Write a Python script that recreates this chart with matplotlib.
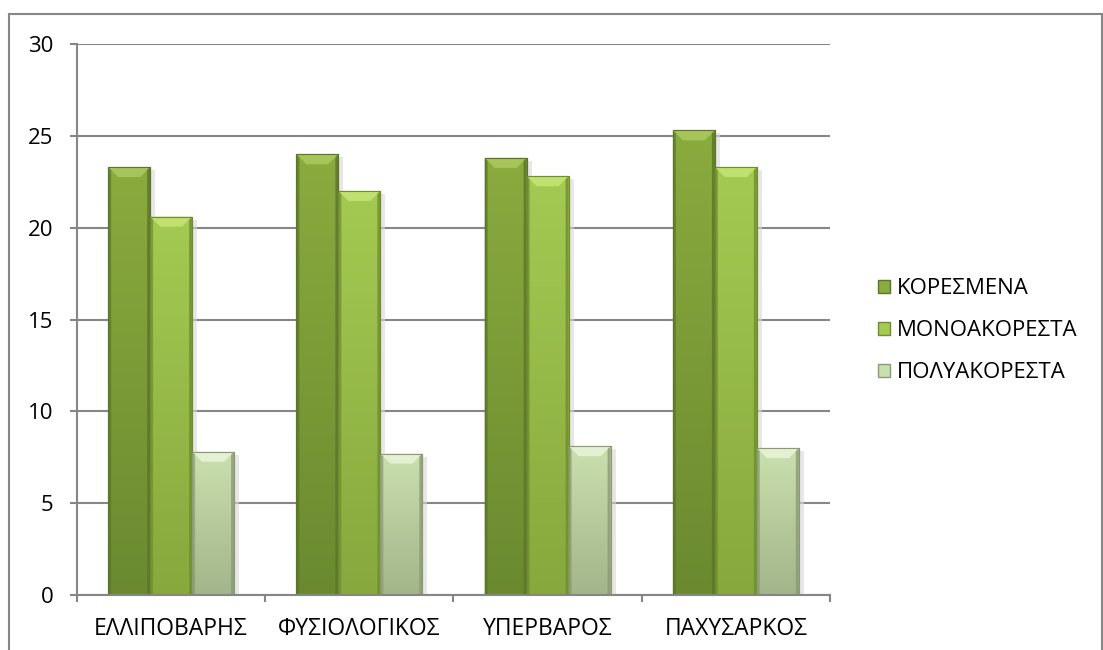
import numpy as np
import matplotlib
matplotlib.use("Agg")
import matplotlib.pyplot as plt
from matplotlib.patches import Polygon, Rectangle
from matplotlib.colors import LinearSegmentedColormap

plt.rcParams['font.family'] = ['Open Sans', 'DejaVu Sans']

# data
categories = ['ΕΛΛΙΠΟΒΑΡΗΣ', 'ΦΥΣΙΟΛΟΓΙΚΟΣ', 'ΥΠΕΡΒΑΡΟΣ', 'ΠΑΧΥΣΑΡΚΟΣ']
series_names = ['ΚΟΡΕΣΜΕΝΑ', 'ΜΟΝΟΑΚΟΡΕΣΤΑ', 'ΠΟΛΥΑΚΟΡΕΣΤΑ']
koresmena = [23.3, 24.0, 23.8, 25.3]
monoakoresta = [20.6, 22.0, 22.8, 23.3]
polyakoresta = [7.8, 7.7, 8.1, 8.0]
yticks = [0, 5, 10, 15, 20, 25, 30]

# top / bottom gradient colour per series
top_cols = ['#8aab3e', '#a4ca52', '#cadfae']
bot_cols = ['#6b8a30', '#87a83d', '#a3b58a']
edge_cols = ['#5a752a', '#6f8c30', '#8a9a74']
bevel_cols = ['#a6c45a', '#c0e070', '#e4f0d2']

fig = plt.figure(figsize=(11.03, 6.5), dpi=100)
ax = fig.add_axes([0.0698, 0.0846, 0.6827, 0.8477])

values = [koresmena, monoakoresta, polyakoresta]
w = 0.223
x = np.arange(len(categories))
ax.set_xlim(-0.5, len(categories) - 0.5)
ax.set_ylim(0, 30)

# size of one pixel in data units (for bevels / shadows)
px_x = 1.0 / 188.0
px_y = 30.0 / 551.0

for i, vals in enumerate(values):
    xs = x + (i - 1) * w
    bars = ax.bar(xs, vals, width=w, color=top_cols[i], edgecolor=edge_cols[i],
                  linewidth=0.8, zorder=3)
    cmap = LinearSegmentedColormap.from_list('g%d' % i, [bot_cols[i], top_cols[i]])
    for b in bars:
        x0, y0 = b.get_x(), b.get_y()
        bw, bh = b.get_width(), b.get_height()
        # soft shadow on the right
        ax.add_patch(Rectangle((x0 + bw, y0), 5 * px_x, bh - 3 * px_y,
                               facecolor='#d8d8d8', edgecolor='none', alpha=0.6, zorder=2))
        grad = np.linspace(0, 1, 64).reshape(-1, 1)
        im = ax.imshow(grad, extent=(x0, x0 + bw, y0, y0 + bh), origin='lower',
                       cmap=cmap, aspect='auto', zorder=3.1)
        im.set_clip_path(b)
        dx, dy = 10 * px_x, 10 * px_y
        top = y0 + bh
        # bevelled top
        ax.add_patch(Polygon([(x0, top), (x0 + bw, top), (x0 + bw - dx, top - dy),
                              (x0 + dx, top - dy)], closed=True,
                             facecolor=bevel_cols[i], edgecolor='none', zorder=3.2))
        # darker side edges
        ax.add_patch(Polygon([(x0, top), (x0 + 3 * px_x, top - 3 * px_y),
                              (x0 + 3 * px_x, y0), (x0, y0)], closed=True,
                             facecolor=edge_cols[i], edgecolor='none', alpha=0.7, zorder=3.3))
        ax.add_patch(Polygon([(x0 + bw, top), (x0 + bw - 3 * px_x, top - 3 * px_y),
                              (x0 + bw - 3 * px_x, y0), (x0 + bw, y0)], closed=True,
                             facecolor=edge_cols[i], edgecolor='none', alpha=0.8, zorder=3.3))
        ax.add_patch(Rectangle((x0, y0), bw, bh, facecolor='none',
                               edgecolor=edge_cols[i], linewidth=0.8, zorder=3.4))

# grid and axes
ax.set_yticks(yticks)
ax.yaxis.grid(True, color='#868686', linewidth=1.5, zorder=0)
ax.set_axisbelow(True)
for s in ['top', 'right']:
    ax.spines[s].set_visible(False)
for s in ['left', 'bottom']:
    ax.spines[s].set_color('#868686')
    ax.spines[s].set_linewidth(1.5)
    ax.spines[s].set_zorder(4)

ax.set_xticks(np.arange(len(categories) + 1) - 0.5)
ax.set_xticklabels([])
ax.set_xticks(x, minor=True)
ax.set_xticklabels(categories, minor=True)
ax.tick_params(axis='x', which='major', direction='out', length=5, width=1.5,
               color='#868686')
ax.tick_params(axis='x', which='minor', length=0, pad=16, labelsize=16.5)
ax.tick_params(axis='y', direction='out', length=5, width=1.5, color='#868686',
               pad=12, labelsize=16)

# legend
handles = [Rectangle((0, 0), 1, 1, facecolor=top_cols[i], edgecolor=edge_cols[i])
           for i in range(3)]
fig.legend(handles, series_names, loc='center left', bbox_to_anchor=(0.778, 0.491),
           frameon=False, fontsize=16, handlelength=0.55, handleheight=0.55,
           handletextpad=0.3, labelspacing=0.95)

# outer chart border
fig.add_artist(Rectangle((9 / 1103, -0.05), 1093 / 1103, 1.05 - 14 / 650,
                         transform=fig.transFigure, facecolor='none',
                         edgecolor='#868686', linewidth=1.5))

fig.savefig('out.png', dpi=100)
